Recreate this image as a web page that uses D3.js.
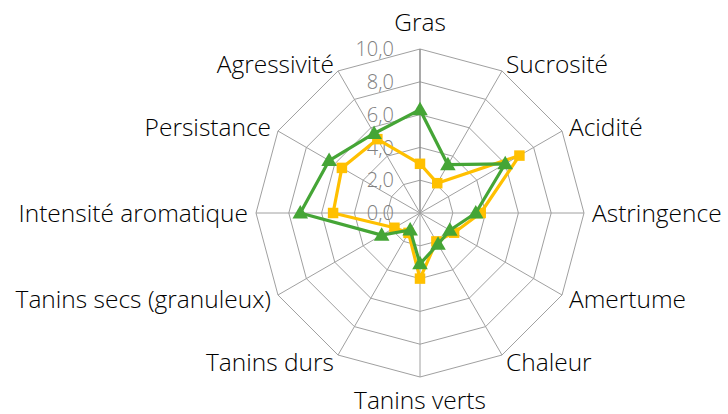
<!DOCTYPE html>
<html>
<head>
<meta charset="utf-8">
<script src="https://cdn.jsdelivr.net/npm/d3@7"></script>
<style>
  html, body { margin: 0; padding: 0; background: #fff; }
  svg { display: block; }
  text { font-family: "Open Sans", "Noto Sans", sans-serif; font-weight: 300; }
</style>
</head>
<body>
<svg id="chart" width="728" height="414"></svg>
<script>
// Sensory attributes (clockwise from the top)
const attributes = ["Gras", "Sucrosité", "Acidité", "Astringence", "Amertume", "Chaleur",
  "Tanins verts", "Tanins durs", "Tanins secs (granuleux)", "Intensité aromatique",
  "Persistance", "Agressivité"];

// Scores of the two wines
const seriesYellow = [3.0, 2.1, 7.0, 3.7, 2.4, 2.0, 4.0, 1.4, 1.8, 5.3, 5.5, 5.2];
const seriesGreen  = [6.3, 3.4, 6.0, 3.4, 2.1, 2.2, 3.1, 1.2, 2.7, 7.3, 6.4, 5.6];

// Radial axis ticks
const tickValues = [0, 2, 4, 6, 8, 10];
const tickLabels = ["0,0", "2,0", "4,0", "6,0", "8,0", "10,0"];

const svg = d3.select("#chart");
const cx = 420, cy = 213, R = 164;

const r = d3.scaleLinear().domain([0, 10]).range([0, R]);
const angle = d3.scalePoint().domain(attributes).range([0, 2 * Math.PI * (attributes.length - 1) / attributes.length]);

const g = svg.append("g").attr("transform", `translate(${cx},${cy})`);
const pt = (a, v) => [r(v) * Math.sin(angle(a)), -r(v) * Math.cos(angle(a))];

// Grid rings
const ringLine = d3.line().curve(d3.curveLinearClosed);
tickValues.filter(v => v > 0).forEach(v => {
  g.append("path")
    .attr("d", ringLine(attributes.map(a => pt(a, v))))
    .attr("fill", "none")
    .attr("stroke", "#a0a0a0")
    .attr("stroke-width", 1);
});

// Spokes
attributes.forEach(a => {
  const [x, y] = pt(a, 10);
  g.append("line")
    .attr("x1", 0).attr("y1", 0).attr("x2", x).attr("y2", y)
    .attr("stroke", a === attributes[0] ? "#8c8c8c" : "#a0a0a0")
    .attr("stroke-width", a === attributes[0] ? 1.5 : 1);
});

// Tick labels along the vertical axis
g.selectAll(".tick")
  .data(tickValues)
  .join("text")
  .attr("class", "tick")
  .attr("x", -26)
  .attr("y", v => -r(v))
  .attr("dy", "0.36em")
  .attr("text-anchor", "end")
  .attr("fill", "#808080")
  .attr("font-size", 20)
  .text((v, i) => tickLabels[i]);

// Attribute labels
g.selectAll(".lbl")
  .data(attributes)
  .join("text")
  .attr("class", "lbl")
  .attr("font-size", 24.5)
  .attr("fill", "#000")
  .each(function(a) {
    const th = angle(a);
    const s = Math.sin(th), c = Math.cos(th);
    const x = (R + 8) * s;
    let y = -(R + 8) * c;
    let anchor = "middle";
    if (s > 0.1) anchor = "start";
    else if (s < -0.1) anchor = "end";
    if (anchor === "middle") y += c > 0 ? -19 : 15;
    d3.select(this)
      .attr("x", x).attr("y", y).attr("dy", "0.36em")
      .attr("text-anchor", anchor)
      .text(a);
  });

// Data series
const series = [
  { values: seriesYellow, color: "#ffc000", marker: "square" },
  { values: seriesGreen, color: "#45a536", marker: "triangle" }
];

series.forEach(s => {
  const pts = attributes.map((a, i) => pt(a, s.values[i]));
  g.append("path")
    .attr("d", ringLine(pts))
    .attr("fill", "none")
    .attr("stroke", s.color)
    .attr("stroke-width", 3.2)
    .attr("stroke-linejoin", "round");
  const sym = d3.symbol()
    .type(s.marker === "square" ? d3.symbolSquare : d3.symbolTriangle)
    .size(s.marker === "square" ? 110 : 105);
  g.selectAll(null)
    .data(pts)
    .join("path")
    .attr("transform", d => `translate(${d[0]},${d[1] + (s.marker === "triangle" ? 1 : 0)})`)
    .attr("d", sym())
    .attr("fill", s.color);
});
</script>
</body>
</html>
